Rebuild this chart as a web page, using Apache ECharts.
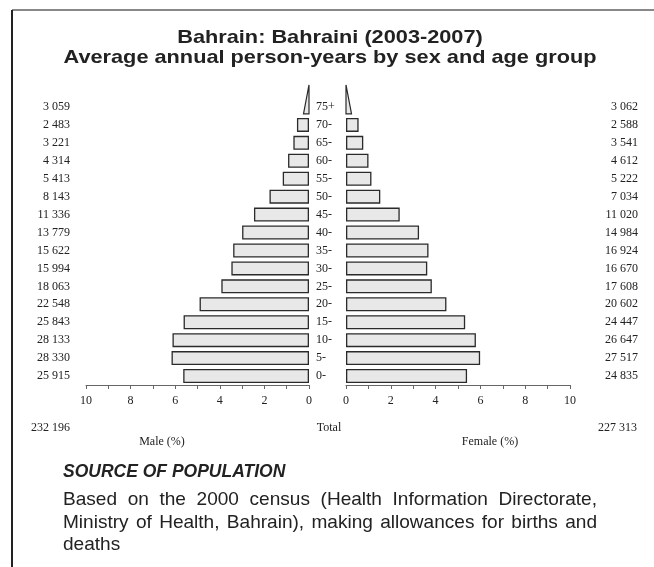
<!DOCTYPE html>
<html><head><meta charset="utf-8">
<script src="https://cdn.jsdelivr.net/npm/echarts@6/dist/echarts.min.js"></script>
<style>html,body{margin:0;padding:0;background:#fff}#c{width:654px;height:567px}</style>
</head><body><div id="c"></div>
<script>
// ---- data (bottom to top) ----
const ageGroups = ['0-','5-','10-','15-','20-','25-','30-','35-','40-','45-','50-','55-','60-','65-','70-','75+'];
const maleCounts = [25915,28330,28133,25843,22548,18063,15994,15622,13779,11336,8143,5413,4314,3221,2483,3059];
const femaleCounts = [24835,27517,26647,24447,20602,17608,16670,16924,14984,11020,7034,5222,4612,3541,2588,3062];
// percent of total person-years (both sexes)
const malePct = [5.640,6.165,6.122,5.624,4.907,3.931,3.481,3.400,2.999,2.467,1.772,1.178,0.939,0.701,0.540,0.666];
const femalePct = [5.405,5.988,5.799,5.320,4.483,3.832,3.628,3.683,3.261,2.398,1.531,1.136,1.004,0.771,0.563,0.666];
const maleTotal = '232 196';
const femaleTotal = '227 313';
const xTickLabels = [0,2,4,6,8,10];
const titleLines = ['Bahrain: Bahraini (2003-2007)', 'Average annual person-years by sex and age group'];
const sourceTitle = 'SOURCE OF POPULATION';
const sourceLines = ['Based on the 2000 census (Health Information Directorate,',
  'Ministry of Health, Bahrain), making allowances for births and', 'deaths'];

// ---- helpers ----
const fmt = n => String(n).replace(/\B(?=(\d{3})+(?!\d))/g, ' ');
const OPEN = '75+';
const SERIF = '"Liberation Serif", "DejaVu Serif", serif';
const SANS = '"Liberation Sans", Arial, sans-serif';
const TRI_W = 0.37;   // drawn width factor of open-ended triangle
const TRI_H = 29;     // triangle height in px
const BAR_W = 14;
const INK = '#222';

const chart = echarts.init(document.getElementById('c'), null, {renderer: 'canvas'});

function triangleRender() {
  return function (params, api) {
    const v = api.value(0), ci = api.value(1);
    const p0 = api.coord([0, ci]);
    const p1 = api.coord([v * TRI_W, ci]);
    const by = p0[1] + BAR_W / 2;
    return {
      type: 'polygon',
      shape: {points: [[p0[0], by], [p1[0], by], [p0[0], by - TRI_H]]},
      style: {fill: '#e8e8e8', stroke: '#2a2a2a', lineWidth: 1.2}
    };
  };
}

const barStyle = {color: '#e8e8e8', borderColor: '#2a2a2a', borderWidth: 1.3};
const xAxisCommon = {
  type: 'value', min: 0, max: 10, interval: 1,
  axisLine: {show: true, lineStyle: {color: '#666', width: 1}},
  axisTick: {show: true, length: 4, lineStyle: {color: '#666'}},
  splitLine: {show: false},
  axisLabel: {formatter: v => xTickLabels.includes(v) ? String(v) : '', fontFamily: SERIF, fontSize: 12, color: INK, margin: 10}
};
const catCommon = {
  type: 'category', data: ageGroups,
  axisLine: {show: false}, axisTick: {show: false}, splitLine: {show: false}
};

const mctx = document.createElement('canvas').getContext('2d');
function measure(text, font) { mctx.font = font; return mctx.measureText(text).width; }

// justified paragraph lines
function justified(line, x0, width, y, font, sx, last) {
  const words = line.split(' ');
  const ws = words.map(w => measure(w, font) * sx);
  const sum = ws.reduce((a, b) => a + b, 0);
  const gap = (last || words.length < 2) ? measure(' ', font) * sx : (width - sum) / (words.length - 1);
  const els = [];
  let x = x0;
  words.forEach((w, i) => {
    els.push({type: 'text', x: x, y: y, scaleX: sx,
      style: {text: w, font: font, fill: INK, textAlign: 'left', textVerticalAlign: 'middle'}});
    x += ws[i] + gap;
  });
  return els;
}

const titleFont = 'bold 19px ' + SANS;
const TITLE_W = 533;  // width of the longer title line
const bodyFont = '18.5px ' + SANS;
const BODY_SX = 1.03;

const graphics = [
  {type: 'line', shape: {x1: 12, y1: 10, x2: 654, y2: 10}, style: {stroke: '#888', lineWidth: 2}},
  {type: 'line', shape: {x1: 12, y1: 10, x2: 12, y2: 567}, style: {stroke: INK, lineWidth: 2}},
  {type: 'text', x: 70, y: 428, style: {text: maleTotal, font: '12px ' + SERIF, fill: INK, textAlign: 'right', textVerticalAlign: 'middle'}},
  {type: 'text', x: 329, y: 428, style: {text: 'Total', font: '12px ' + SERIF, fill: INK, textAlign: 'center', textVerticalAlign: 'middle'}},
  {type: 'text', x: 637, y: 428, style: {text: femaleTotal, font: '12px ' + SERIF, fill: INK, textAlign: 'right', textVerticalAlign: 'middle'}},
  {type: 'text', x: 162, y: 442, style: {text: 'Male (%)', font: '12px ' + SERIF, fill: INK, textAlign: 'center', textVerticalAlign: 'middle'}},
  {type: 'text', x: 490, y: 442, style: {text: 'Female (%)', font: '12px ' + SERIF, fill: INK, textAlign: 'center', textVerticalAlign: 'middle'}},
  {type: 'text', x: 63, y: 472, style: {text: sourceTitle, font: 'italic bold 17.5px ' + SANS, fill: INK, textVerticalAlign: 'middle'}}
];
const titleSx = TITLE_W / Math.max.apply(null, titleLines.map(t => measure(t, titleFont)));
titleLines.forEach((t, i) => {
  graphics.push({type: 'text', x: 330, y: 38 + i * 20, scaleX: titleSx,
    style: {text: t, font: titleFont, fill: INK, textAlign: 'center', textVerticalAlign: 'middle'}});
});
sourceLines.forEach((ln, i) => {
  justified(ln, 63, 534, 500 + i * 22.5, bodyFont, BODY_SX, i === sourceLines.length - 1).forEach(e => graphics.push(e));
});

const option = {
  animation: false,
  backgroundColor: '#fff',
  grid: [
    {left: 86, width: 223, top: 98, height: 287},
    {left: 346, width: 224, top: 98, height: 287}
  ],
  xAxis: [
    Object.assign({}, xAxisCommon, {gridIndex: 0, inverse: true}),
    Object.assign({}, xAxisCommon, {gridIndex: 1})
  ],
  yAxis: [
    Object.assign({}, catCommon, {gridIndex: 0, position: 'left',
      axisLabel: {formatter: (v, i) => fmt(maleCounts[i]), fontFamily: SERIF, fontSize: 12, color: INK, margin: 16}}),
    Object.assign({}, catCommon, {gridIndex: 0, position: 'right',
      axisLabel: {fontFamily: SERIF, fontSize: 12, color: INK, margin: 7, align: 'left'}}),
    Object.assign({}, catCommon, {gridIndex: 1, position: 'right',
      axisLabel: {formatter: (v, i) => fmt(femaleCounts[i]), fontFamily: SERIF, fontSize: 12, color: INK, margin: 68, align: 'right'}})
  ],
  series: [
    {type: 'bar', xAxisIndex: 0, yAxisIndex: 0, barWidth: BAR_W, itemStyle: barStyle,
      data: malePct.map((v, i) => ageGroups[i] === OPEN ? '-' : v)},
    {type: 'bar', xAxisIndex: 1, yAxisIndex: 2, barWidth: BAR_W, itemStyle: barStyle,
      data: femalePct.map((v, i) => ageGroups[i] === OPEN ? '-' : v)},
    {type: 'custom', xAxisIndex: 0, yAxisIndex: 0, renderItem: triangleRender(), encode: {x: 0, y: 1},
      data: malePct.map((v, i) => [v, i]).filter((d, i) => ageGroups[i] === OPEN)},
    {type: 'custom', xAxisIndex: 1, yAxisIndex: 2, renderItem: triangleRender(), encode: {x: 0, y: 1},
      data: femalePct.map((v, i) => [v, i]).filter((d, i) => ageGroups[i] === OPEN)}
  ],
  graphic: graphics
};
chart.setOption(option);
</script>
</body></html>
